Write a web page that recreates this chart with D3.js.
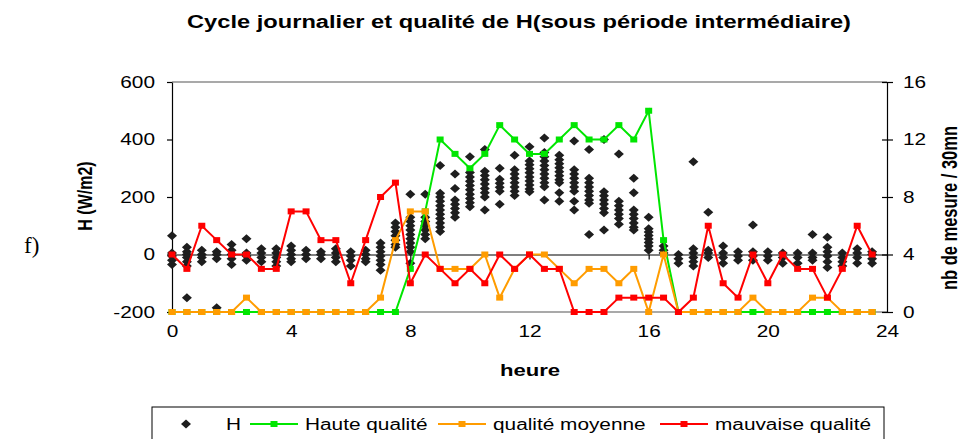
<!DOCTYPE html>
<html>
<head>
<meta charset="utf-8">
<script src="https://cdn.jsdelivr.net/npm/d3@7"></script>
<style>
  body { margin: 0; background: #fff; }
  text { font-family: "Liberation Sans", Arial, sans-serif; fill: #000; }
</style>
</head>
<body>
<svg id="chart"></svg>
<script>
// half-hour categories
const HOURS = [0, 0.5, 1, 1.5, 2, 2.5, 3, 3.5, 4, 4.5, 5, 5.5, 6, 6.5, 7, 7.5,
    8, 8.5, 9, 9.5, 10, 10.5, 11, 11.5, 12, 12.5, 13, 13.5, 14, 14.5, 15, 15.5,
    16, 16.5, 17, 17.5, 18, 18.5, 19, 19.5, 20, 20.5, 21, 21.5, 22, 22.5, 23, 23.5];

// H (W/m2) measurements for each half hour
const H_VALUES = [
    [65, 5, -5, -20, -35],
    [25, 10, 0, -10, -25, -40, -150],
    [15, 0, -10, -25],
    [10, 0, -15, -185],
    [35, 15, 0, -15, -35],
    [55, 5, -5, -20],
    [20, 5, -10, -25],
    [20, 5, -10, -25, -40],
    [30, 15, 0, -15, -25],
    [15, 0, -15],
    [10, 0, -15],
    [20, 5, -10, -25],
    [10, -5, -20, -40],
    [15, 0, -15, -25],
    [40, 25, 10, -5, -20, -35, -55],
    [110, 95, 80, 65, 50, 35, 25],
    [210, 130, 115, 100, 85, 70, 55, 40, 25, 10, -30],
    [210, 130, 115, 100, 85, 70, 55],
    [310, 213, 200, 185, 170, 155, 140, 125, 110, 95, 80],
    [280, 230, 190, 175, 160, 145, 130],
    [340, 285, 270, 255, 240, 225, 210, 195, 180, 166],
    [365, 290, 275, 260, 245, 230, 215, 200, 155],
    [300, 262, 248, 234, 220, 175],
    [345, 295, 280, 265, 250, 235, 220, 205],
    [375, 325, 312, 298, 284, 270, 256, 242, 228, 218],
    [405, 355, 340, 325, 310, 295, 280, 265, 250, 236, 190],
    [345, 330, 316, 302, 288, 274, 260, 250, 215, 185],
    [395, 295, 280, 265, 250, 235, 220, 185, 155],
    [365, 265, 250, 235, 220, 205, 190, 178, 70],
    [400, 218, 204, 190, 176, 160, 145, 85],
    [350, 185, 170, 155, 140, 125, 105],
    [265, 215, 155, 140, 125, 110, 95, 85],
    [130, 90, 78, 66, 54, 42, 30, 15],
    [30, 15, 5],
    [0, -15, -30],
    [323, 20, 5, -10, -25, -40],
    [147, 15, 5, -10],
    [30, 5, -10, -30],
    [10, -5, -20],
    [103, 10, -5, -20],
    [10, -5, -20],
    [5, -10, -30],
    [5, -10, -30],
    [70, 5, -10, -20],
    [60, 25, 10, -5, -25, -45],
    [5, -10, -25, -40],
    [20, 5, -10, -30],
    [10, 0, -15, -30]
];

// nb de mesure / 30mn
const HAUTE = [0, 0, 0, 0, 0, 0, 0, 0, 0, 0, 0, 0, 0, 0, 0, 0,
    3, 7, 12, 11, 10, 11, 13, 12, 11, 11, 12, 13, 12, 12, 13, 12,
    14, 5, 0, 0, 0, 0, 0, 0, 0, 0, 0, 0, 0, 0, 0, 0];
const MOYENNE = [0, 0, 0, 0, 0, 1, 0, 0, 0, 0, 0, 0, 0, 0, 1, 5,
    7, 7, 3, 3, 3, 4, 1, 3, 4, 4, 3, 2, 3, 3, 2, 3,
    0, 4, 0, 0, 0, 0, 0, 1, 0, 0, 0, 1, 1, 0, 0, 0];
const MAUVAISE = [4, 3, 6, 5, 4, 4, 3, 3, 7, 7, 5, 5, 2, 5, 8, 9,
    2, 4, 3, 2, 3, 2, 4, 3, 4, 3, 3, 0, 0, 0, 1, 1,
    1, 1, 0, 1, 6, 2, 1, 4, 2, 4, 3, 3, 1, 3, 6, 4];

const X_TICKS = [0, 4, 8, 12, 16, 20, 24];
const YL_TICKS = [-200, 0, 200, 400, 600];
const YR_TICKS = [0, 4, 8, 12, 16];

const WIDTH = 962, HEIGHT = 439;
const SX = 1.3; // the source picture is stretched horizontally

const svg = d3.select("#chart").attr("width", WIDTH).attr("height", HEIGHT);

function stretch(sel) {
    sel.each(function() {
        const w = this.getComputedTextLength();
        d3.select(this).attr("textLength", w * SX).attr("lengthAdjust", "spacingAndGlyphs");
    });
}

const x = d3.scaleLinear().domain([0, 24]).range([172, 887]);
const yL = d3.scaleLinear().domain([-200, 600]).range([312, 82]);
const yR = d3.scaleLinear().domain([0, 16]).range([312, 82]);
const plain = d => String(d); // keep "-200" with a hyphen like Excel

// plot border top / bottom
svg.append("line").attr("x1", 172).attr("x2", 887).attr("y1", 82).attr("y2", 82)
    .attr("stroke", "#8c8c8c").attr("stroke-width", 1.5);
svg.append("line").attr("x1", 172).attr("x2", 887).attr("y1", 312).attr("y2", 312)
    .attr("stroke", "#8c8c8c").attr("stroke-width", 1.5);

// left axis
const gL = svg.append("g").attr("transform", "translate(172,0)")
    .call(d3.axisLeft(yL).tickValues(YL_TICKS).tickFormat(plain).tickSize(5).tickSizeOuter(0).tickPadding(12));
gL.selectAll("text").style("font-size", "16px").call(stretch);

// right axis
const gR = svg.append("g").attr("transform", "translate(887,0)")
    .call(d3.axisRight(yR).tickValues(YR_TICKS).tickFormat(plain).tickSize(6).tickSizeOuter(0).tickPadding(10));
gR.selectAll(".tick line").attr("x1", -5);
gR.selectAll("text").style("font-size", "16px").call(stretch);

// x axis line at H = 0
svg.append("g").attr("transform", "translate(0," + yL(0) + ")")
    .call(d3.axisBottom(x).tickValues(X_TICKS).tickSize(5).tickSizeOuter(0).tickFormat(""));

// x tick labels at bottom
const gXl = svg.append("g").attr("transform", "translate(0,312)")
    .call(d3.axisBottom(x).tickValues(X_TICKS).tickFormat(plain).tickSize(0).tickPadding(14));
gXl.select(".domain").remove();
gXl.selectAll("text").style("font-size", "16px").call(stretch);

svg.selectAll(".domain, .tick line").attr("stroke", "#000").attr("stroke-width", 1.2);
svg.selectAll(".tick text").attr("fill", "#000");

// H scatter
const hPoints = [];
HOURS.forEach(function(h, i) {
    H_VALUES[i].forEach(function(v) { hPoints.push({ h: h, v: v }); });
});
const diamond = "M0,-4.5L5,0L0,4.5L-5,0Z";
svg.append("g").selectAll("path")
    .data(hPoints)
    .enter().append("path")
    .attr("d", diamond)
    .attr("transform", d => "translate(" + x(d.h) + "," + yL(d.v) + ")")
    .attr("fill", "#1e1e1e");

// quality series (right axis)
const SERIES = [
    { name: "Haute qualité", values: HAUTE, color: "#00e600" },
    { name: "qualité moyenne", values: MOYENNE, color: "#ff9c00" },
    { name: "mauvaise qualité", values: MAUVAISE, color: "#ff0000" }
];
const line = d3.line().x(d => x(d.h)).y(d => yR(d.n));

SERIES.forEach(function(s) {
    const pts = HOURS.map((h, i) => ({ h: h, n: s.values[i] }));
    const g = svg.append("g");
    g.append("path").datum(pts)
        .attr("d", line)
        .attr("fill", "none")
        .attr("stroke", s.color)
        .attr("stroke-width", 2);
    g.selectAll("rect").data(pts).enter().append("rect")
        .attr("x", d => x(d.h) - 3.5)
        .attr("y", d => yR(d.n) - 3)
        .attr("width", 7)
        .attr("height", 6)
        .attr("fill", s.color);
});

// titles
svg.append("text").attr("x", 519).attr("y", 28).attr("text-anchor", "middle")
    .style("font-size", "18px").style("font-weight", "bold")
    .attr("textLength", 664).attr("lengthAdjust", "spacingAndGlyphs")
    .text("Cycle journalier et qualité de H(sous période intermédiaire)");

svg.append("text").attr("transform", "translate(92,196) scale(" + SX + ",1) rotate(-90)").attr("text-anchor", "middle")
    .style("font-size", "16px").style("font-weight", "bold").text("H (W/m2)");

svg.append("text").attr("transform", "translate(957,208) scale(" + SX + ",1) rotate(-90)").attr("text-anchor", "middle")
    .style("font-size", "16.5px").style("font-weight", "bold").text("nb de mesure / 30mn");

svg.append("text").attr("x", 530).attr("y", 376).attr("text-anchor", "middle")
    .style("font-size", "17px").style("font-weight", "bold").text("heure").call(stretch);

svg.append("text").attr("x", 24).attr("y", 253)
    .style("font-family", "'Liberation Serif', 'DejaVu Serif', serif").style("font-size", "23px")
    .text("f)");

// legend
const legend = svg.append("g");
legend.append("rect").attr("x", 152).attr("y", 407).attr("width", 732).attr("height", 50)
    .attr("fill", "#fff").attr("stroke", "#000").attr("stroke-width", 1);
legend.append("path").attr("d", diamond).attr("transform", "translate(186,424)").attr("fill", "#1e1e1e");
legend.append("text").attr("x", 226).attr("y", 430).style("font-size", "16px").text("H").call(stretch);

const LEG_X = [250, 438, 660];
SERIES.forEach(function(s, i) {
    const lx = LEG_X[i];
    legend.append("line").attr("x1", lx).attr("x2", lx + 48).attr("y1", 424).attr("y2", 424)
        .attr("stroke", s.color).attr("stroke-width", 2);
    legend.append("rect").attr("x", lx + 24 - 3.5).attr("y", 421).attr("width", 7).attr("height", 6)
        .attr("fill", s.color);
    legend.append("text").attr("x", lx + 55).attr("y", 430).style("font-size", "16px")
        .text(s.name).call(stretch);
});
</script>
</body>
</html>
